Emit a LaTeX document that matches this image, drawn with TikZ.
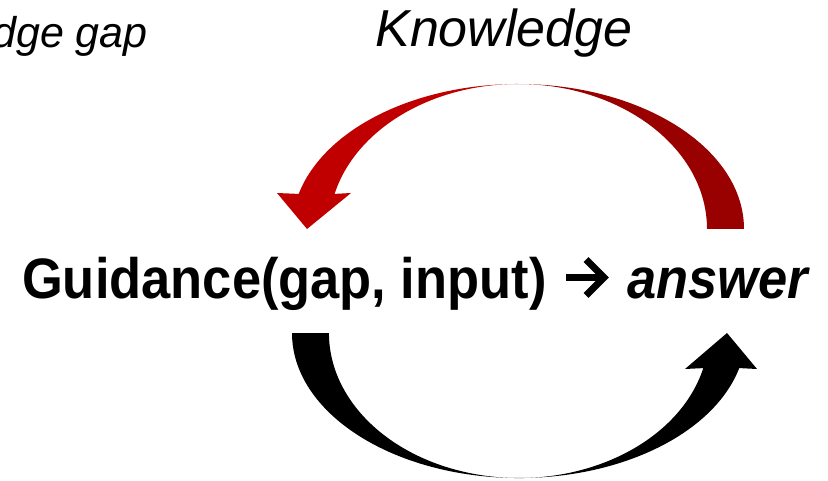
\documentclass[tikz,border=0pt]{standalone}
\usepackage{fontspec}
\setmainfont{Liberation Sans}
\usepackage{graphicx}
\definecolor{redL}{HTML}{C00000}
\definecolor{redR}{HTML}{990000}
\tikzset{
  lbl/.style={inner sep=0pt, font=\itshape\fontsize{43}{50}\selectfont},
  lblbig/.style={inner sep=0pt, font=\itshape\fontsize{52}{60}\selectfont},
  main/.style={inner sep=0pt, font=\bfseries\fontsize{57}{64}\selectfont},
  txtarrow/.style={line width=7pt, line join=miter}
}
\begin{document}
\begin{tikzpicture}[x=1pt,y=1pt]
\useasboundingbox (0,0) rectangle (828,480);
\clip (0,0) rectangle (828,480);
% red arrow (knowledge, right to left over the top)
\fill[redR] (744,251) arc[start angle=0,end angle=90,x radius=226,y radius=145]
  arc[start angle=90,end angle=0,x radius=189,y radius=145] -- cycle;
\fill[redL] (518,396) arc[start angle=90,end angle=166,x radius=226,y radius=145]
  -- (277,287) -- (307,251) -- (351,287) -- (334.6,286.1)
  arc[start angle=166,end angle=90,x radius=189,y radius=145] -- cycle;
% black arrow (bottom, left to right)
\fill[black] (292,147) arc[start angle=180,end angle=346,x radius=227,y radius=145]
  -- (757,111) -- (727,147) -- (685,111) -- (703.3,111.9)
  arc[start angle=346,end angle=180,x radius=190,y radius=145] -- cycle;
% texts
\node[lbl, anchor=base east] (gap) at (148,432) {Knowledge gap};
\node[lblbig, anchor=base] (know) at (504,433) {Knowledge};
\node[main, anchor=base west] (guid) at (22,182)
  {\scalebox{0.92}[1]{Guidance(gap, input)}};
\node[main, anchor=base west] (ans) at (627,182)
  {\scalebox{0.92}[1]{\textit{answer}}};
% text arrow between the two parts
\coordinate (a1) at (566,202.5);
\coordinate (a2) at (604,202.5);
\coordinate (h1) at (586,220.5);
\coordinate (h2) at (586,184.5);
\draw[txtarrow] (a1) -- (a2);
\draw[txtarrow] (h1) -- (a2) -- (h2);
\end{tikzpicture}
\end{document}
